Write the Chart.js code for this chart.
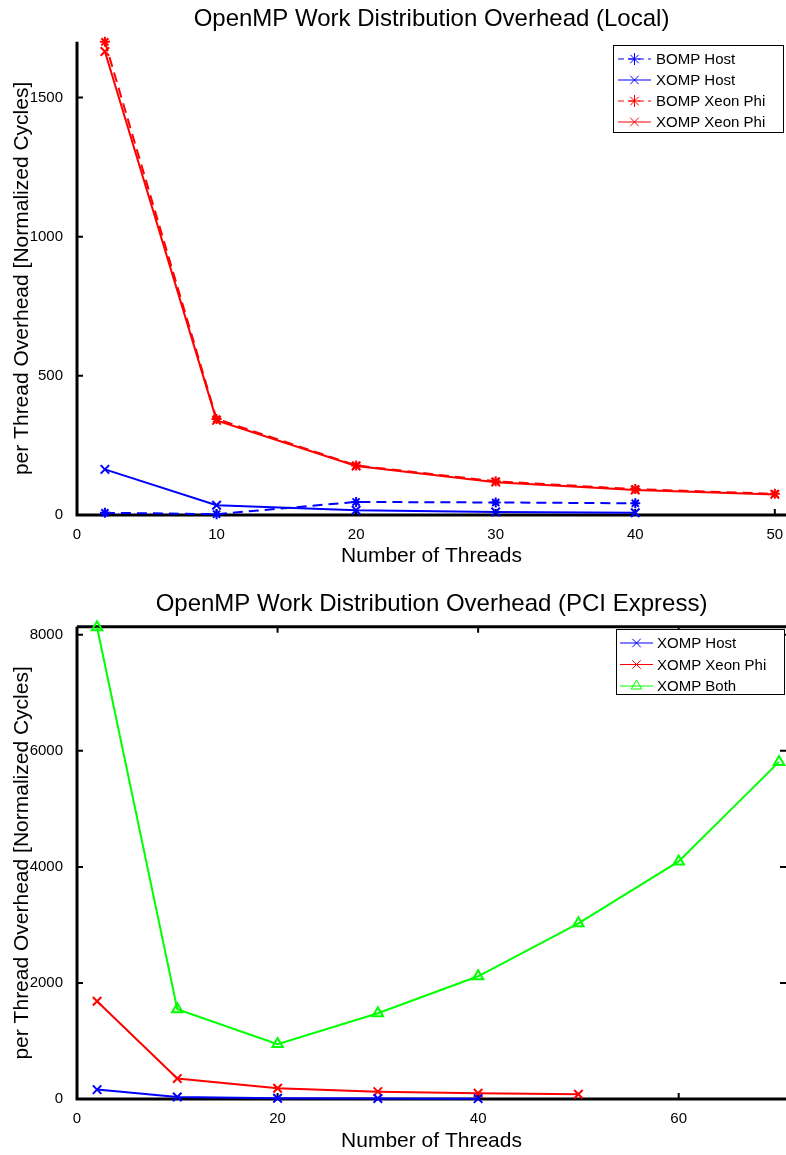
<!DOCTYPE html>
<html>
<head>
<meta charset="utf-8">
<title>OpenMP Work Distribution Overhead</title>
<script src="https://cdn.jsdelivr.net/npm/chart.js@4/dist/chart.umd.min.js"></script>
<style>
  html, body { margin: 0; padding: 0; background: #fff; }
  #wrap { position: relative; width: 786px; height: 1155px; }
  .box { position: absolute; left: 0; width: 786px; }
  #top { top: 0; height: 578px; }
  #bottom { top: 578px; height: 577px; }
</style>
</head>
<body>
<div id="wrap">
  <div class="box" id="top"><canvas id="localChart" width="786" height="578"></canvas></div>
  <div class="box" id="bottom"><canvas id="pcieChart" width="786" height="577"></canvas></div>
</div>
<script>
// thread counts
const threadsHost = [2, 10, 20, 30, 40];
const threadsPhi = [2, 10, 20, 30, 40, 50];
const threadsBoth = [2, 10, 20, 30, 40, 50, 60, 70];

// local run (normalized cycles per thread)
const bompHostLocal = [8, 3, 47, 45, 42];
const xompHostLocal = [164, 35, 17, 11, 8];
const bompPhiLocal = [1700, 345, 178, 121, 93, 76];
const xompPhiLocal = [1665, 340, 176, 118, 90, 74];

// over PCI express
const xompHostPcie = [162, 35, 14, 8, 6];
const xompPhiPcie = [1685, 352, 184, 127, 98, 81];
const xompBothPcie = [8130, 1548, 946, 1479, 2115, 3028, 4095, 5810];

// tick labels
const localTicksX = [0, 10, 20, 30, 40, 50];
const localTicksY = [0, 500, 1000, 1500];
const pcieTicksX = [0, 20, 40, 60];
const pcieTicksY = [0, 2000, 4000, 6000, 8000];

const FONT = "'Liberation Sans', Arial, Helvetica, sans-serif";
const BLUE = '#0000ff';
const RED = '#ff0000';
const GREEN = '#00ff00';

function pts(xs, ys) {
    return ys.map((y, i) => ({ x: xs[i], y: y }));
}

function series(label, data, color, marker, dashed) {
    return {
        label: label,
        data: data,
        borderColor: color,
        backgroundColor: color,
        borderWidth: 2,
        borderDash: dashed ? [10, 6] : [],
        pointStyle: marker,
        pointRadius: marker === 'star' ? 5 : 6,
        pointBorderWidth: 2,
        pointBorderColor: color,
        pointBackgroundColor: marker === 'triangle' ? 'rgba(0,0,0,0)' : color,
        tension: 0,
        fill: false,
        clip: false
    };
}

// markers for the legend box
function drawMarker(ctx, style, x, y, r, color) {
    ctx.save();
    ctx.strokeStyle = color;
    ctx.lineWidth = 1;
    ctx.beginPath();
    if (style === 'triangle') {
        ctx.moveTo(x, y - r);
        ctx.lineTo(x + r * 0.87, y + r * 0.5);
        ctx.lineTo(x - r * 0.87, y + r * 0.5);
        ctx.closePath();
    } else {
        const d = r * 0.707;
        ctx.moveTo(x - d, y - d); ctx.lineTo(x + d, y + d);
        ctx.moveTo(x + d, y - d); ctx.lineTo(x - d, y + d);
        if (style === 'star') {
            ctx.moveTo(x, y - r); ctx.lineTo(x, y + r);
            ctx.moveTo(x - r, y); ctx.lineTo(x + r, y);
        }
    }
    ctx.stroke();
    ctx.restore();
}

// thick axes with inward ticks, like the original figure
const matlabAxes = {
    id: 'matlabAxes',
    beforeDatasetsDraw(chart, args, opts) {
        const { ctx, chartArea: a } = chart;
        const x = chart.scales.x, y = chart.scales.y;
        const len = 6;
        ctx.save();
        ctx.strokeStyle = '#000';
        ctx.lineWidth = 3;
        ctx.beginPath();
        ctx.moveTo(a.left, a.top);
        ctx.lineTo(a.left, a.bottom);
        ctx.lineTo(a.right, a.bottom);
        if (opts.box) {
            ctx.moveTo(a.left, a.top);
            ctx.lineTo(a.right, a.top);
        }
        ctx.stroke();
        ctx.lineWidth = 2;
        ctx.beginPath();
        x.ticks.forEach(t => {
            const px = x.getPixelForValue(t.value);
            ctx.moveTo(px, a.bottom);
            ctx.lineTo(px, a.bottom - len);
            if (opts.box) {
                ctx.moveTo(px, a.top);
                ctx.lineTo(px, a.top + len);
            }
        });
        y.ticks.forEach(t => {
            const py = y.getPixelForValue(t.value);
            ctx.moveTo(a.left, py);
            ctx.lineTo(a.left + len, py);
            if (opts.box) {
                ctx.moveTo(a.right, py);
                ctx.lineTo(a.right - len, py);
            }
        });
        ctx.stroke();
        ctx.restore();
    }
};

// legend drawn as a boxed list in the upper right corner
const boxLegend = {
    id: 'boxLegend',
    afterDatasetsDraw(chart, args, o) {
        const ctx = chart.ctx;
        ctx.save();
        ctx.fillStyle = '#fff';
        ctx.fillRect(o.left, o.top, o.width, o.height);
        ctx.strokeStyle = '#000';
        ctx.lineWidth = 1;
        ctx.strokeRect(o.left + 0.5, o.top + 0.5, o.width, o.height);
        ctx.font = o.fontSize + 'px ' + FONT;
        ctx.textBaseline = 'middle';
        chart.data.datasets.forEach((ds, i) => {
            const yy = o.top + o.firstRow + i * o.rowGap;
            const x0 = o.left + o.lineStart, x1 = o.left + o.lineEnd;
            ctx.strokeStyle = ds.borderColor;
            ctx.lineWidth = 1;
            ctx.setLineDash(ds.borderDash.length ? [6, 4] : []);
            ctx.beginPath();
            ctx.moveTo(x0, yy);
            ctx.lineTo(x1, yy);
            ctx.stroke();
            ctx.setLineDash([]);
            drawMarker(ctx, ds.pointStyle, (x0 + x1) / 2, yy, 6, ds.borderColor);
            ctx.fillStyle = '#000';
            ctx.fillText(ds.label, o.left + o.textStart, yy + 1);
        });
        ctx.restore();
    }
};

function makeOptions(cfg) {
    return {
        responsive: false,
        animation: false,
        layout: { padding: 0, autoPadding: false },
        plugins: {
            legend: { display: false },
            tooltip: { enabled: false },
            title: {
                display: true,
                fullSize: false,
                text: cfg.title,
                color: '#000',
                font: { family: FONT, size: 24, weight: 'normal' },
                padding: cfg.titlePadding
            },
            matlabAxes: { box: cfg.box },
            boxLegend: cfg.legend
        },
        scales: {
            x: {
                type: 'linear',
                min: 0,
                max: cfg.maxX,
                afterBuildTicks: s => { s.ticks = cfg.ticksX.map(v => ({ value: v })); },
                afterFit: s => {
                    s.height = cfg.xHeight;
                    s.paddingLeft = 0;
                    s.paddingRight = 0;
                },
                grid: { display: false },
                border: { display: false },
                ticks: {
                    color: '#000',
                    font: { family: FONT, size: 15 },
                    padding: 3,
                    maxRotation: 0,
                    autoSkip: false,
                    callback: v => String(v)
                },
                title: {
                    display: true,
                    text: 'Number of Threads',
                    color: '#000',
                    font: { family: FONT, size: 21 },
                    padding: { top: 0, bottom: cfg.xTitleBottom }
                }
            },
            y: {
                min: 0,
                max: cfg.maxY,
                afterBuildTicks: s => { s.ticks = cfg.ticksY.map(v => ({ value: v })); },
                afterFit: s => { s.width = 77; },
                grid: { display: false },
                border: { display: false },
                ticks: {
                    color: '#000',
                    font: { family: FONT, size: 15 },
                    padding: 6,
                    autoSkip: false,
                    callback: v => String(v)
                },
                title: {
                    display: true,
                    text: 'per Thread Overhead [Normalized Cycles]',
                    color: '#000',
                    font: { family: FONT, size: 21 },
                    padding: { top: 10, bottom: 0 }
                }
            }
        }
    };
}

function initLocalChart() {
    const ctx = document.getElementById('localChart').getContext('2d');
    new Chart(ctx, {
        type: 'line',
        data: {
            datasets: [
                series('BOMP Host', pts(threadsHost, bompHostLocal), BLUE, 'star', true),
                series('XOMP Host', pts(threadsHost, xompHostLocal), BLUE, 'crossRot', false),
                series('BOMP Xeon Phi', pts(threadsPhi, bompPhiLocal), RED, 'star', true),
                series('XOMP Xeon Phi', pts(threadsPhi, xompPhiLocal), RED, 'crossRot', false)
            ]
        },
        options: makeOptions({
            title: 'OpenMP Work Distribution Overhead (Local)',
            titlePadding: { top: 5, bottom: 8 },
            box: false,
            maxX: 50.8,
            maxY: 1700,
            ticksX: localTicksX,
            ticksY: localTicksY,
            xHeight: 63,
            xTitleBottom: 9,
            legend: { left: 613, top: 45, width: 170, height: 87, firstRow: 14, rowGap: 21, lineStart: 5, lineEnd: 38, textStart: 43, fontSize: 15 }
        }),
        plugins: [matlabAxes, boxLegend]
    });
}

function initPcieChart() {
    const ctx = document.getElementById('pcieChart').getContext('2d');
    new Chart(ctx, {
        type: 'line',
        data: {
            datasets: [
                series('XOMP Host', pts(threadsHost, xompHostPcie), BLUE, 'crossRot', false),
                series('XOMP Xeon Phi', pts(threadsPhi, xompPhiPcie), RED, 'crossRot', false),
                series('XOMP Both', pts(threadsBoth, xompBothPcie), GREEN, 'triangle', false)
            ]
        },
        options: makeOptions({
            title: 'OpenMP Work Distribution Overhead (PCI Express)',
            titlePadding: { top: 12, bottom: 8 },
            box: true,
            maxX: 70.7,
            maxY: 8138,
            ticksX: pcieTicksX,
            ticksY: pcieTicksY,
            xHeight: 56,
            xTitleBottom: 1,
            legend: { left: 616, top: 51, width: 168, height: 65, firstRow: 14, rowGap: 21.5, lineStart: 4, lineEnd: 37, textStart: 41, fontSize: 15 }
        }),
        plugins: [matlabAxes, boxLegend]
    });
}

window.onload = function () {
    initLocalChart();
    initPcieChart();
};
</script>
</body>
</html>
